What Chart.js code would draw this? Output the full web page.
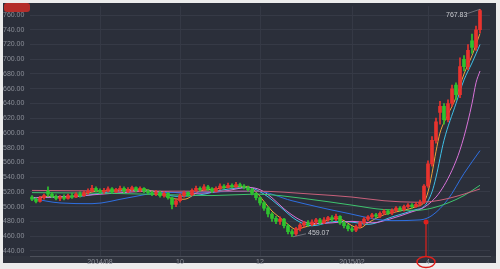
<!DOCTYPE html>
<html><head><meta charset="utf-8">
<script src="https://cdn.jsdelivr.net/npm/chart.js@4.4.1/dist/chart.umd.min.js"></script>
<style>html,body{margin:0;padding:0;background:#ececec;overflow:hidden}#wrap{width:500px;height:269px;position:relative}</style>
</head><body><div id="wrap"><canvas id="c" width="500" height="269"></canvas></div>
<script>
// OHLC per candle (each candle index = one session slot on the x axis)
const opens  = [513,510,507,512,521,517,514,511,513,511,515,513,517,515,519,521,525,522,520,522,524,520,523,525,521,523,526,522,525,521,519,517,519,515,518,512,503,508,515,519,516,522,525,523,527,524,521,525,528,526,529,527,530,528,526,523,518,512,505,498,490,484,480,483,474,466,463,470,475,478,476,479,482,478,482,485,483,487,478,474,470,468,473,478,483,486,489,487,491,494,491,495,498,496,500,502,500,503,506,528,558,590,628,636,618,640,665,652,700,690,725,716,740];
const closes = [510,507,512,515,517,514,511,513,511,515,513,517,515,519,521,525,522,520,522,524,520,523,525,521,523,526,522,525,521,519,517,519,515,518,512,503,508,515,519,516,522,525,523,527,524,521,525,528,526,529,527,530,528,526,523,518,512,505,498,490,484,480,483,474,466,463,470,475,478,476,479,482,478,482,485,483,487,478,474,470,468,473,478,483,486,489,487,491,494,491,495,498,496,500,502,500,503,506,528,558,590,615,636,618,640,660,652,690,690,712,716,740,766];
const highs  = [515,512,514,517,527,519,516,515,516,517,518,519,520,521,524,529,527,524,525,527,526,525,528,527,526,528,527,527,526,523,521,522,521,520,519,513,510,517,521,520,524,528,527,530,529,526,527,531,530,532,531,533,532,530,528,525,519,513,507,500,492,487,486,484,476,469,472,477,480,481,482,484,484,485,487,488,490,488,480,476,473,475,480,485,488,491,491,493,496,496,497,500,500,502,504,504,506,509,530,562,595,620,643,640,645,665,668,702,705,720,734,745,767.83];
const lows   = [508,505,506,510,514,512,509,508,509,510,511,512,513,514,517,520,520,518,518,520,518,519,521,519,519,521,520,520,519,517,515,515,513,513,510,497,500,506,513,514,515,520,521,522,522,519,520,523,524,525,525,526,526,524,521,516,509,502,495,486,480,477,476,471,463,459.07,461,467,472,473,474,476,476,477,480,480,481,476,471,467,466,466,471,476,481,484,485,485,489,489,489,493,494,494,498,498,499,501,504,526,555,586,612,612,615,636,645,648,684,686,708,712,736];

// Moving averages, read as [candle index, value]
const ma5   = [[0,511],[4,514],[8,513],[12,515],[16,521],[20,522],[24,523],[28,523],[32,518],[35,511],[38,510],[42,521],[46,524],[50,527],[54,527],[56,520],[58,507],[60,494],[62,485],[64,476],[66,469],[68,472],[72,478],[76,484],[78,481],[80,474],[82,471],[84,478],[88,489],[92,494],[96,500],[98,506],[99,520],[100,545],[101,575],[102,600],[104,625],[106,648],[108,680],[110,705],[112,735]];
const ma10  = [[0,512],[6,513],[12,514],[18,519],[24,522],[30,521],[36,514],[42,516],[48,523],[54,526],[58,517],[62,500],[66,482],[70,474],[76,480],[80,479],[84,476],[90,486],[96,496],[98,500],[100,520],[101,540],[103,590],[106,640],[108,672],[110,695],[112,720]];
const ma20  = [[0,512],[10,514],[20,518],[30,521],[40,518],[48,521],[54,526],[57,523],[60,512],[63,497],[67,482],[70,477],[75,478],[80,480],[85,478],[90,484],[95,493],[98,499],[102,520],[106,562],[108,595],[110,640],[111,668],[112,684]];
const ma60  = [[0,511],[7,505],[15,504],[24,512],[32,519],[45,520],[56,521],[65,508],[78,492],[90,481],[97,482],[100,488],[104,510],[108,545],[112,576]];
const ma120 = [[0,519],[20,518],[35,516],[45,515],[56,517],[68,511],[80,502],[88,496],[96,495],[100,498],[104,505],[108,515],[112,529]];
const ma250 = [[0,522],[30,521],[56,521],[70,517],[80,513],[88,508],[96,506],[100,507],[104,511],[108,517],[112,524]];

const yTicks  = [440,460,480,500,520,540,560,580,600,620,640,660,680,700,720,740,760];
const tickIdx = [17,37,57,80,99];
const tickText= ['2014/08','10','12','2015/02','4'];

const RED='#e8332e', GREEN='#2fc22f';
const up = i => closes[i] >= opens[i];
const bodies = opens.map((o,i)=>({x:i, y:[o, closes[i]]}));
const wicks  = opens.map((o,i)=>({x:i, y:[lows[i], highs[i]]}));
const pts = a => a.map(([x,y])=>({x,y}));
const FONT = {family:'"Liberation Sans", Arial, sans-serif', size:7};

const bg = {
  id:'bg',
  beforeDraw(c){
    const g=c.ctx; g.save();
    g.fillStyle='#ececec'; g.fillRect(0,0,500,269);
    g.fillStyle='#2b2f3a'; g.fillRect(3,3,493,260);
    g.fillStyle='#2f333d'; g.fillRect(3,256,493,7);
    g.restore();
  },
  afterDraw(c){
    const g=c.ctx, x=c.scales.x, y=c.scales.y; g.save();
    g.fillStyle='rgba(205,45,40,0.85)';
    g.beginPath(); g.roundRect(4,3,26,9,3); g.fill();
    g.font='7px "Liberation Sans", Arial, sans-serif'; g.fillStyle='#c8cacf';
    g.textBaseline='middle';
    const mi = highs.indexOf(Math.max(...highs));
    const mx = x.getPixelForValue(mi), my = y.getPixelForValue(highs[mi]);
    g.fillText(highs[mi].toFixed(2), 446, 15);
    g.strokeStyle='#9a9ca3'; g.lineWidth=0.6;
    g.beginPath(); g.moveTo(466,14); g.lineTo(mx,my); g.stroke();
    const ni = lows.indexOf(Math.min(...lows));
    const nx = x.getPixelForValue(ni), ny = y.getPixelForValue(lows[ni]);
    g.beginPath(); g.moveTo(nx+1,ny); g.lineTo(306,ny-3); g.stroke();
    g.fillText(lows[ni].toFixed(2), 308, ny-4);
    const ax = x.getPixelForValue(tickIdx[4]) - 2;
    g.strokeStyle='#e0201c'; g.fillStyle='#e0201c'; g.lineWidth=1.2;
    g.beginPath(); g.moveTo(ax,222); g.lineTo(ax,256); g.stroke();
    g.beginPath(); g.arc(ax,222,2.5,0,Math.PI*2); g.fill();
    g.lineWidth=1.5;
    g.beginPath(); g.ellipse(ax,262,9,5.5,0,0,Math.PI*2); g.stroke();
    g.restore();
  }
};

const line = (data,color) => ({type:'line', data:pts(data), borderColor:color, borderWidth:1, pointRadius:0, cubicInterpolationMode:'monotone', order:1});

new Chart(document.getElementById('c'), {
  data:{datasets:[
    {type:'bar', data:bodies, backgroundColor:c=>up(c.dataIndex)?RED:GREEN, barThickness:3, grouped:false, minBarLength:1, order:0},
    {type:'bar', data:wicks, backgroundColor:c=>up(c.dataIndex)?RED:GREEN, barThickness:1, grouped:false, order:0},
    line(ma250,'#c8607a'),
    line(ma120,'#3ec46e'),
    line(ma60,'#2f6fe0'),
    line(ma20,'#d872d8'),
    line(ma10,'#3fbfe6'),
    line(ma5,'#eea238')
  ]},
  options:{
    responsive:false, animation:false, events:[],
    layout:{padding:{left:3,right:10,top:5,bottom:0}},
    plugins:{legend:{display:false}, tooltip:{enabled:false}},
    scales:{
      x:{type:'linear', min:-0.5, max:114.5, offset:false,
        afterBuildTicks:s=>{s.ticks=tickIdx.map(v=>({value:v}));},
        afterFit:s=>{s.height=13;},
        ticks:{autoSkip:false, maxRotation:0, font:FONT, color:'#8c9099', padding:2,
          callback:v=>{const k=tickIdx.indexOf(v); return k<0?'':tickText[k];}},
        grid:{color:'#353945', drawTicks:false, offset:false},
        border:{display:true, color:'#4c505a'}
      },
      y:{type:'linear', min:433, max:772,
        afterBuildTicks:s=>{s.ticks=yTicks.map(v=>({value:v}));},
        afterFit:s=>{s.width=27;},
        ticks:{font:FONT, color:'#8c9099', crossAlign:'far', padding:2, callback:v=>v.toFixed(2)},
        grid:{color:'#363a46', drawTicks:false},
        border:{display:false}
      }
    }
  },
  plugins:[bg]
});
</script></body></html>
